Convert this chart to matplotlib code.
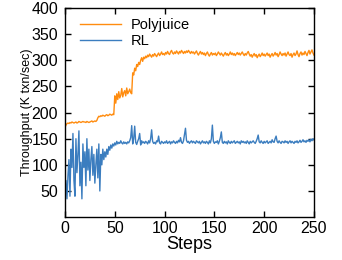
import numpy as np
from matplotlib import pyplot as plt

plt.rcParams["font.family"] = ["Liberation Sans", "DejaVu Sans"]

polyjuice = [
    172, 176, 179, 180, 179, 181, 180, 182, 181, 180,
    181, 182, 180, 181, 183, 182, 181, 182, 183, 182,
    182, 181, 183, 182, 181, 182, 183, 184, 182, 183,
    184, 183, 185, 190, 193, 192, 194, 193, 195, 194,
    193, 195, 196, 194, 195, 197, 196, 195, 197, 196,
    232, 218, 236, 225, 240, 228, 233, 246, 230, 238,
    242, 232, 247, 236, 240, 245, 238, 236, 276, 272,
    285, 280, 292, 288, 296, 292, 300, 305, 298, 306,
    303, 308, 305, 310, 307, 312, 309, 306, 311, 308,
    313, 310, 307, 311, 314, 309, 312, 316, 311, 313,
    310, 315, 312, 317, 313, 311, 316, 319, 314, 312,
    316, 313, 318, 315, 312, 317, 314, 319, 316, 313,
    317, 314, 318, 315, 319, 316, 313, 317, 314, 316,
    312, 315, 318, 313, 310, 314, 317, 312, 315, 311,
    314, 309, 313, 316, 311, 308, 312, 315, 310, 313,
    311, 314, 309, 312, 316, 313, 310, 314, 311, 308,
    312, 315, 310, 313, 309, 312, 316, 311, 314, 310,
    313, 309, 312, 315, 311, 314, 310, 313, 316, 312,
    309, 313, 310, 314, 317, 312, 308, 311, 306, 310,
    313, 308, 311, 305, 309, 312, 307, 310, 314, 309,
    312, 308, 311, 314, 309, 312, 306, 310, 313, 308,
    311, 315, 310, 313, 307, 311, 316, 312, 309, 313,
    310, 314, 308, 312, 316, 311, 309, 313, 306, 311,
    314, 309, 312, 318, 311, 307, 313, 316, 310, 314,
    311, 317, 313, 309, 315, 319, 312, 316, 320, 314,
    310,
]

rl = [
    45, 70, 35, 80, 110, 40, 130, 95, 160, 70,
    40, 150, 85, 120, 165, 60, 105, 35, 140, 95,
    125, 60, 150, 90, 130, 70, 110, 135, 80, 120,
    65, 100, 130, 75, 140, 50, 120, 100, 130, 110,
    125, 115, 130, 120, 135, 128, 138, 132, 140, 136,
    142, 138, 145, 140, 143, 141, 146, 142, 140, 144,
    141, 143, 140, 144, 142, 146, 152, 175, 140, 150,
    174, 143, 139, 145, 150, 160, 138, 146, 142, 144,
    141, 145, 143, 140, 146, 142, 150, 167, 145, 141,
    143, 140, 146, 144, 155, 142, 140, 145, 143, 141,
    144, 142, 146, 141, 143, 145, 140, 144, 142, 146,
    143, 141, 145, 142, 147, 144, 152, 143, 141, 146,
    158, 170, 147, 143, 145, 141, 144, 146, 142, 145,
    143, 141, 146, 144, 142, 145, 140, 143, 146, 142,
    144, 141, 145, 143, 140, 146, 142, 150, 176, 145,
    141, 144, 143, 146, 140, 145, 152, 163, 143, 141,
    145, 142, 144, 140, 146, 143, 141, 145, 142, 144,
    146, 141, 143, 145, 142, 144, 140, 146, 143, 145,
    142, 144, 141, 146, 143, 140, 145, 142, 144, 146,
    143, 141, 145, 150, 157, 144, 142, 146, 143, 141,
    145, 142, 144, 146, 141, 143, 145, 142, 148, 144,
    143, 150, 155, 145, 142, 146, 143, 141, 145, 144,
    142, 146, 143, 145, 141, 144, 146, 142, 145, 143,
    141, 145, 143, 146, 142, 144, 147, 143, 145, 148,
    144, 146, 143, 147, 145, 148, 144, 149, 146, 150,
    148,
]

steps = np.arange(len(polyjuice))
x_ticks = [0, 50, 100, 150, 200, 250]
y_ticks = [50, 100, 150, 200, 250, 300, 350, 400]

fig = plt.figure(figsize=(3.42, 2.6), dpi=100)
ax = fig.add_axes([0.19, 0.165, 0.728, 0.804])

ax.plot(steps, polyjuice, color="#ff8c0f", lw=1.0, label="Polyjuice")
ax.plot(steps, rl, color="#3b7dbf", lw=1.0, label="RL")

ax.set_xlim(0, 250)
ax.set_ylim(0, 400)
ax.set_xticks(x_ticks)
ax.set_yticks(y_ticks)
ax.tick_params(direction="in", top=True, right=True, length=4, width=1,
               labelsize=11.5)
ax.tick_params(axis="x", pad=3)
ax.tick_params(axis="y", pad=5)
for s in ax.spines.values():
    s.set_linewidth(1)

ax.set_xlabel("Steps", fontsize=13, labelpad=0)
ax.set_ylabel("Throughput (K txn/sec)", fontsize=9, labelpad=-1)
ax.legend(loc="upper left", frameon=False, fontsize=10.5, handlelength=2.8,
          borderaxespad=0.3, labelspacing=0.1, handletextpad=0.7,
          bbox_to_anchor=(0.02, 1.0))

fig.savefig("out.png", dpi=100)
